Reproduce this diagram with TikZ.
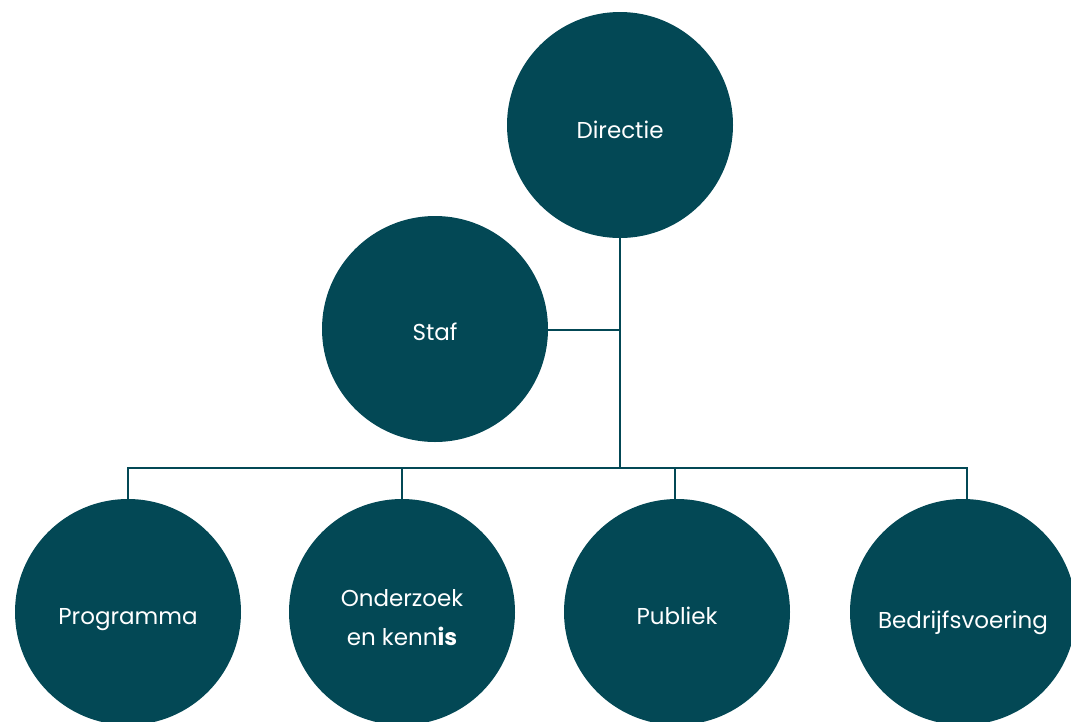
\documentclass[tikz,border=0pt]{standalone}
\usepackage{fontspec}
\setmainfont{Poppins}
\definecolor{teal}{HTML}{034855}
\begin{document}
\begin{tikzpicture}[x=1pt,y=-1pt,
  unit/.style={circle,fill=teal,minimum size=226pt,inner sep=0pt},
  lbl/.style={text=white,font=\fontsize{23}{39}\selectfont,align=center,anchor=base,inner sep=0pt},
  conn/.style={draw=teal,line width=1.1pt}]
\useasboundingbox (0,0) rectangle (1071,721);
\node[unit] (dir) at (620,125) {};
\node[unit] (staf) at (435,329) {};
\node[unit] (prog) at (128,612) {};
\node[unit] (ond) at (402,612) {};
\node[unit] (pub) at (677,612) {};
\node[unit] (bed) at (963,612) {};
\node[lbl] (tdir) at (620,138) {Directie};
\node[lbl] (tstaf) at (435,340) {Staf};
\node[lbl] (tprog) at (128,624) {Programma};
\node[lbl] (tond) at (402,645) {Onderzoek\\en kenn\textbf{is}};
\node[lbl] (tpub) at (677,624) {Publiek};
\node[lbl] (tbed) at (963,628) {Bedrijfsvoering};
\coordinate (j) at (620,468);
\coordinate (sj) at (620,330);
\coordinate (dprog) at (128,468);
\coordinate (dond) at (402,468);
\coordinate (dpub) at (675,468);
\coordinate (dbed) at (967,468);
\draw[conn] (dir.south) -- (j);
\draw[conn] (staf.east |- sj) -- (sj);
\draw[conn] (prog.north -| dprog) -- (dprog) -- (dbed) -- (bed.north -| dbed);
\draw[conn] (ond.north -| dond) -- (dond);
\draw[conn] (pub.north -| dpub) -- (dpub);
\end{tikzpicture}
\end{document}
